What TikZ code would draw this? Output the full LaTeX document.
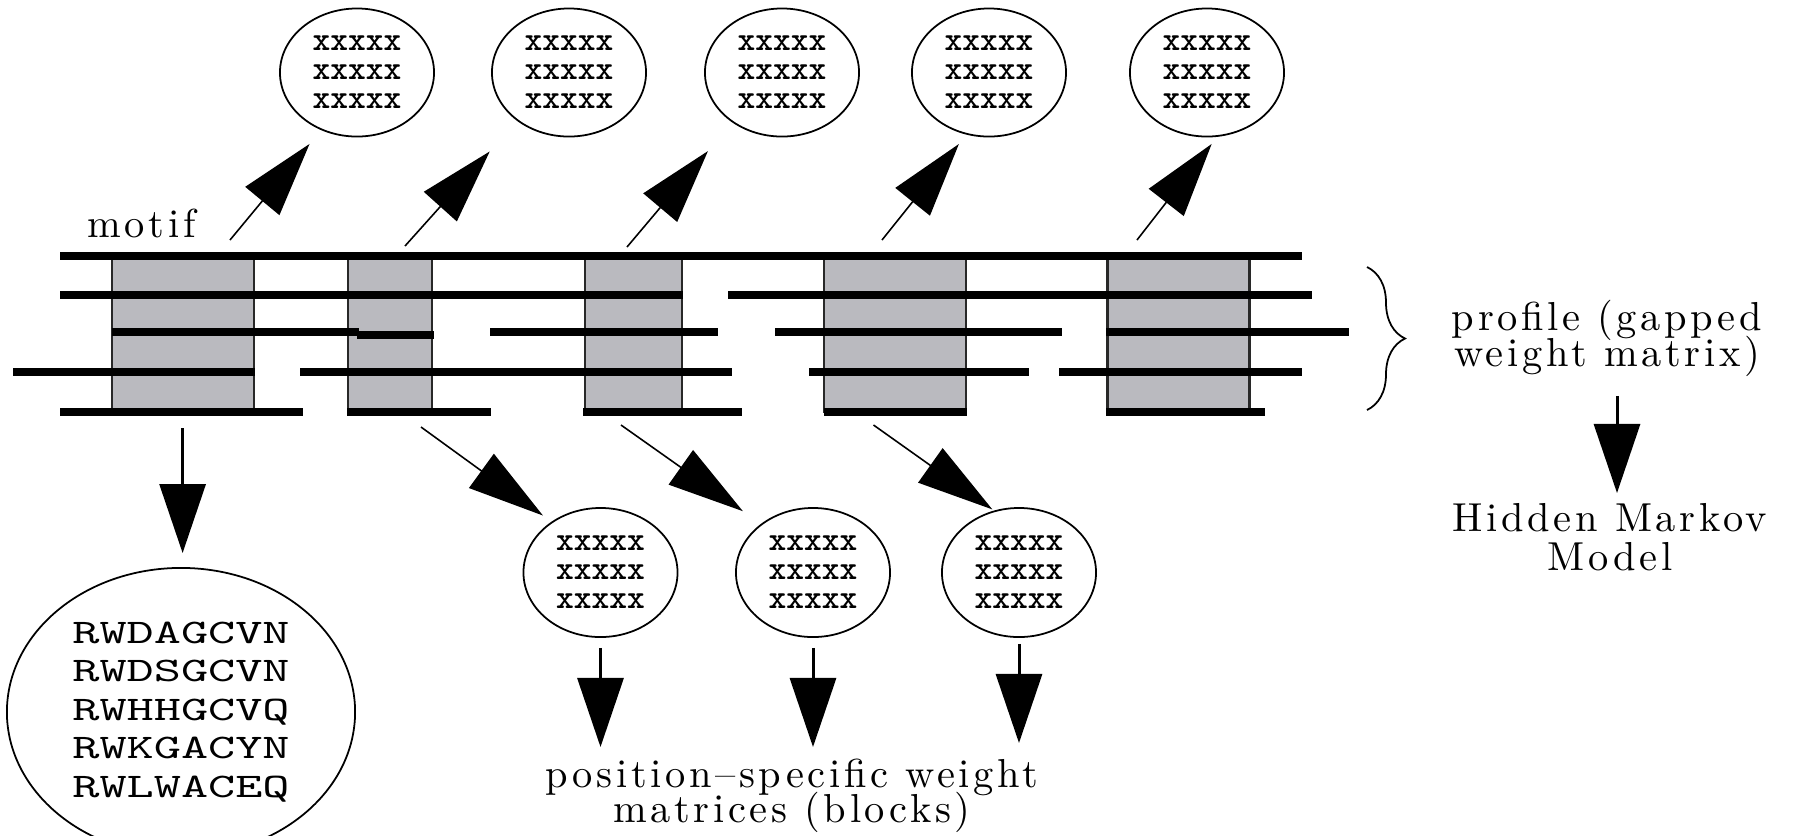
\documentclass[tikz,border=0pt]{standalone}
\usepackage{fontspec}
\usetikzlibrary{arrows.meta,shapes.geometric,decorations.pathreplacing}
\newfontfamily\seqfont{lmmono10-regular}[Extension=.otf, FakeStretch=1.5]
\newfontfamily\xfont{lmmonolt10-bold}[Extension=.otf]
\newfontfamily\lblfam{lmroman10-regular}[Extension=.otf, LetterSpace=9, Ligatures=TeX]
\newcommand\lbl[1]{\lblfam\fontsize{11.5pt}{#1}\selectfont\lineskiplimit=-\maxdimen}
\definecolor{blockgray}{RGB}{186,186,191}
\definecolor{edgegray}{RGB}{40,40,40}
\begin{document}
\begin{tikzpicture}[x=0.01cm,y=-0.01cm,
  bar/.style={line width=2.2pt, line cap=butt},
  blk/.style={draw=edgegray, line width=0.6pt, fill=blockgray, minimum height=1.56cm, inner sep=0},
  mat/.style={ellipse, draw, line width=0.5pt, minimum width=1.54cm, minimum height=1.28cm, inner sep=0, align=center,
    font=\xfont\fontsize{9.6pt}{8.25pt}\selectfont},
  seqell/.style={ellipse, draw, line width=0.5pt, minimum width=3.48cm, minimum height=2.88cm, inner sep=0, align=center,
    font=\seqfont\fontsize{9.8pt}{10.95pt}\selectfont},
  txt/.style={inner sep=0, align=center},
  uparr/.style={line width=0.45pt, -{Triangle[length=0.74cm,width=0.44cm]}},
  diagarr/.style={line width=0.45pt, -{Triangle[length=0.76cm,width=0.42cm]}},
  downarr/.style={line width=0.85pt, -{Triangle[length=0.69cm,width=0.46cm]}},
  bracestyle/.style={line width=0.5pt, decorate, decoration={brace, amplitude=0.38cm}}
]
\useasboundingbox (0,0) rectangle (1796,835);

% grey blocks
\node[blk, minimum width=1.42cm] (b1) at (182.6,334) {};
\node[blk, minimum width=0.84cm] (b2) at (390,334) {};
\node[blk, minimum width=0.97cm] (b3) at (633.5,334) {};
\node[blk, minimum width=1.42cm] (b4) at (895,334) {};
\node[blk, minimum width=1.42cm] (b5) at (1178.5,334) {};

% sequence bars
\draw[bar] (60,256) -- (1302,256);
\draw[bar] (60,295) -- (683,295);
\draw[bar] (728,295) -- (1312,295);
\draw[bar] (111.6,332) -- (359,332);
\draw[bar] (357,335) -- (434,335);
\draw[bar] (490,332) -- (718,332);
\draw[bar] (775,332) -- (1062,332);
\draw[bar] (1106,332) -- (1349,332);
\draw[bar] (13,372) -- (255,372);
\draw[bar] (300,372) -- (732,372);
\draw[bar] (809,372) -- (1029,372);
\draw[bar] (1059,372) -- (1302,372);
\draw[bar] (60,412) -- (303,412);
\draw[bar] (347,412) -- (491,412);
\draw[bar] (583,412) -- (741.5,412);
\draw[bar] (824,412) -- (967,412);
\draw[bar] (1106,412) -- (1265,412);

% top ellipses
\node[mat] (e1) at (357,72.5) {xxxxx\\xxxxx\\xxxxx};
\node[mat] (e2) at (569,72.5) {xxxxx\\xxxxx\\xxxxx};
\node[mat] (e3) at (782,72.5) {xxxxx\\xxxxx\\xxxxx};
\node[mat] (e4) at (989,72.5) {xxxxx\\xxxxx\\xxxxx};
\node[mat] (e5) at (1207,72.5) {xxxxx\\xxxxx\\xxxxx};

% bottom ellipses
\node[mat, minimum height=1.29cm] (p1) at (600.5,572.5) {xxxxx\\xxxxx\\xxxxx};
\node[mat, minimum height=1.29cm] (p2) at (813,572.5) {xxxxx\\xxxxx\\xxxxx};
\node[mat, minimum height=1.29cm] (p3) at (1019,572.5) {xxxxx\\xxxxx\\xxxxx};

% sequences ellipse
\node[seqell] (seq) at (181,712) {RWDAGCVN\\RWDSGCVN\\RWHHGCVQ\\RWKGACYN\\RWLWACEQ};

% labels
\node[txt, font={\lbl{10.5pt}}, anchor=base west] (motif) at (87,237) {motif};
\node[txt, font={\lbl{10.5pt}}, anchor=north] (prof) at (1607,299) {profile (gapped\\weight matrix)};
\node[txt, font={\lbl{11pt}}, anchor=north] (hmm) at (1610,503) {Hidden Markov\\Model};
\node[txt, font={\lbl{10pt}}, anchor=north] (pos) at (792,758) {position–specific weight\\matrices (blocks)};

% brace
\draw[bracestyle] (1367,267) -- (1367,410);

% arrows up to motif ellipses
\coordinate (t1) at (230,240);
\coordinate (t2) at (405,246);
\coordinate (t3) at (627,247);
\coordinate (t4) at (882,240);
\coordinate (t5) at (1137,240);
\draw[uparr, shorten >=0.18cm] (t1) -- (e1.238);
\draw[uparr, shorten >=0.41cm] (t2) -- (e2.223);
\draw[uparr, shorten >=0.375cm] (t3) -- (e3.225);
\draw[uparr, shorten >=0.12cm] (t4) -- (e4.250);
\draw[uparr, shorten >=0.09cm] (t5) -- (e5.279);

% arrows down to block matrices
\coordinate (s1) at (421,427);
\coordinate (s2) at (621,425);
\coordinate (s3) at (873.5,425);
\draw[diagarr, shorten >=0.105cm] (s1) -- (p1.134);
\draw[diagarr, shorten >=0.22cm] (s2) -- (p2.137);
\draw[diagarr, shorten >=0.02cm] (s3) -- (p3.112);

% vertical arrows
\draw[downarr, shorten <=0.10cm, shorten >=0.11cm] (p1.south) -- (p1.south |- pos.north);
\draw[downarr, shorten <=0.10cm, shorten >=0.11cm] (p2.south) -- (p2.south |- pos.north);
\draw[downarr, shorten <=0.06cm, shorten >=0.15cm] (p3.south) -- (p3.south |- pos.north);
\draw[downarr, shorten <=0.15cm, shorten >=0.14cm] (b1.south) -- (b1.south |- seq.north);
\draw[downarr, shorten <=0.18cm, shorten >=0.10cm] ([xshift=0.1cm]prof.south) -- ([xshift=0.1cm]prof.south |- hmm.north);
\end{tikzpicture}
\end{document}
